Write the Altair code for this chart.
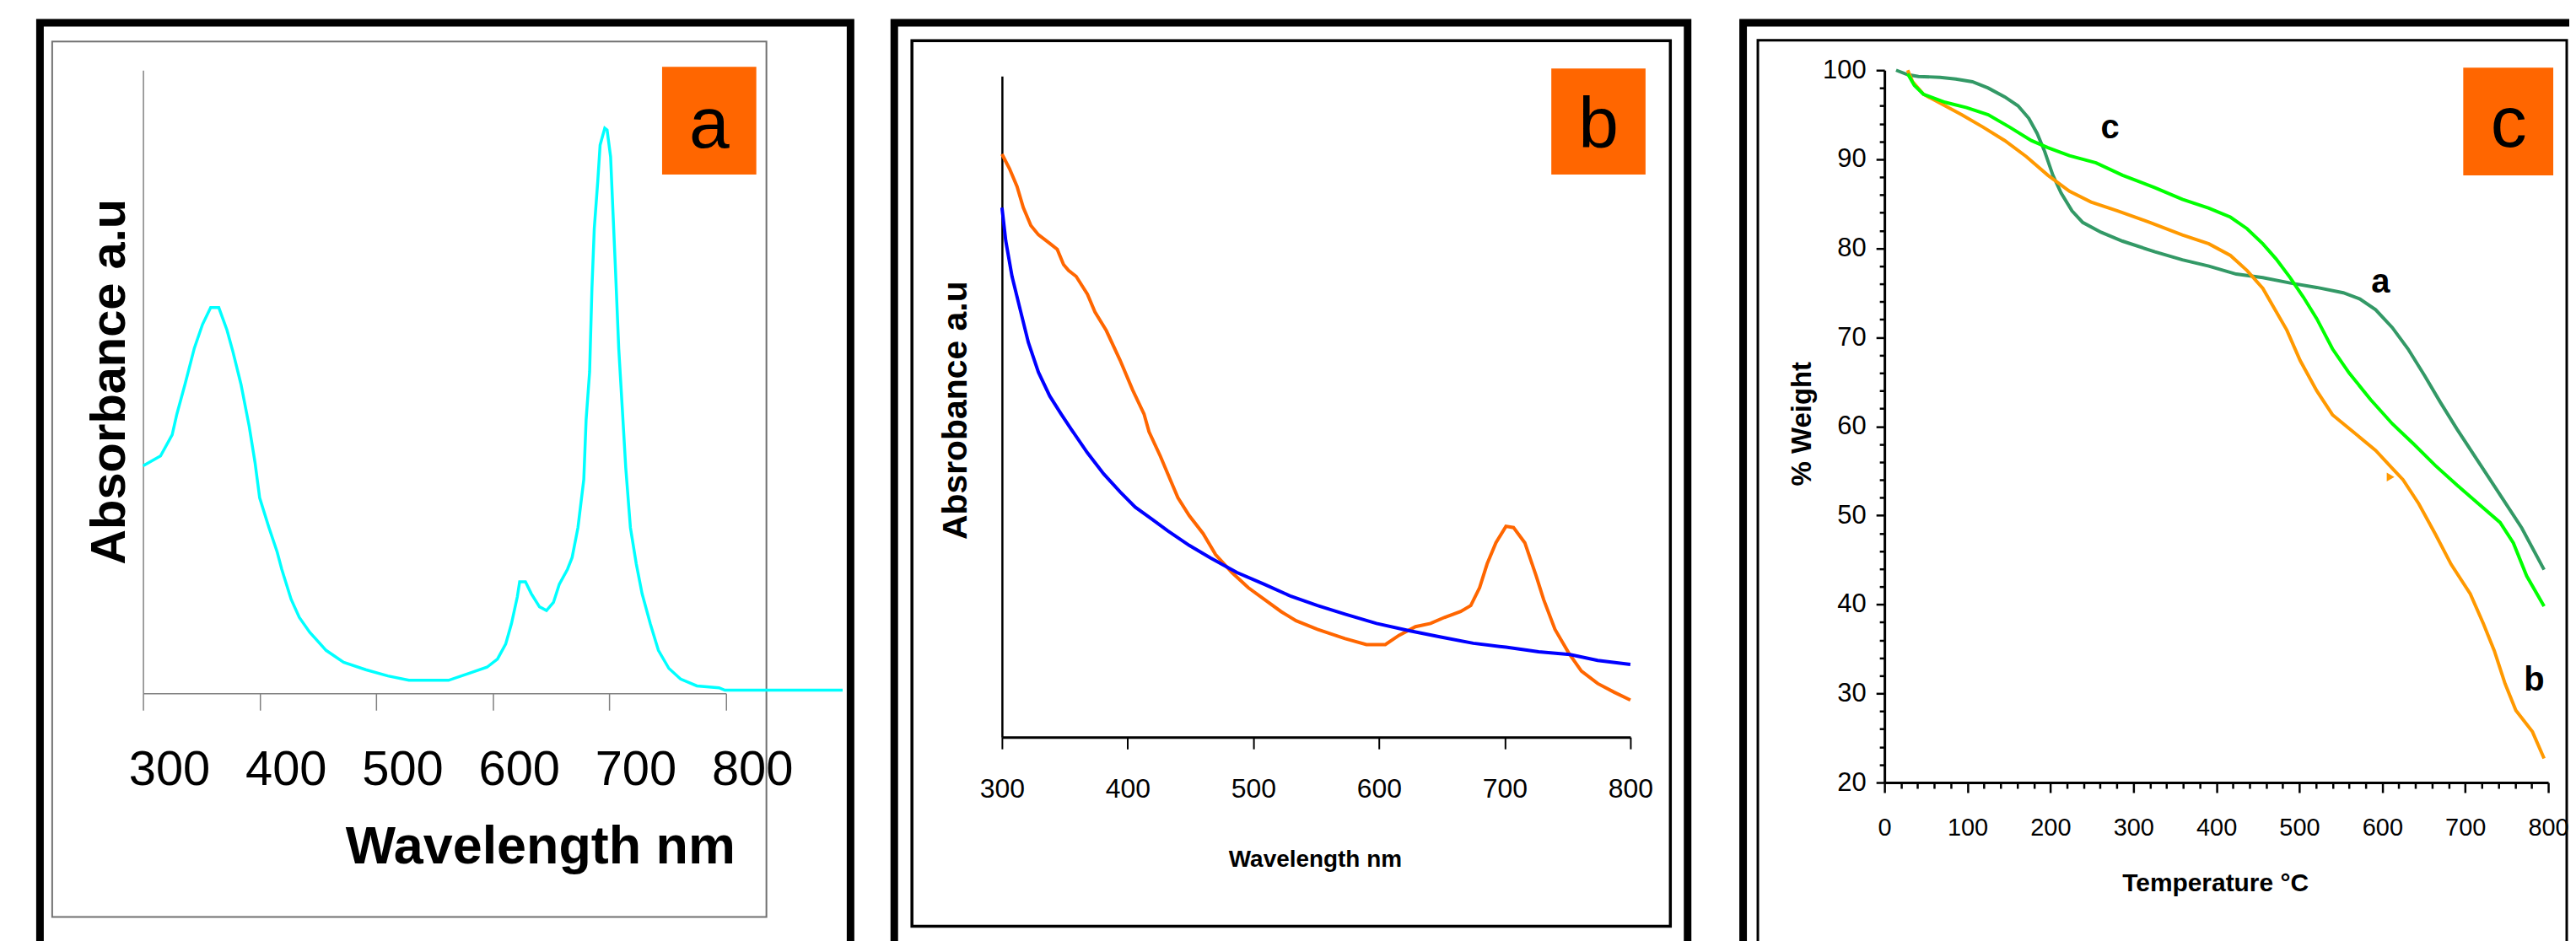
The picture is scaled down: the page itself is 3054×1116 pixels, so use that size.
import altair as alt
import pandas as pd

# ---------------- data: panel a (UV-vis, cyan) ----------------
a_wl = [300,315,325,329,336,344,351,358,365,372,377,384,391,396,400,408,415,419,427,434,
        443,457,472,491,510,528,562,581,595,604,611,616,621,623,628,633,640,646,652,657,
        664,668,673,678,680,683,685,687,690,692,696,698,701,703,705,708,711,714,718,723,
        728,735,742,751,761,775,794,799,900]
a_abs = [0.365,0.381,0.415,0.448,0.496,0.554,0.592,0.619,0.619,0.583,0.549,0.496,0.429,0.371,0.314,0.266,0.227,0.199,0.151,0.122,
         0.098,0.069,0.050,0.038,0.028,0.021,0.021,0.033,0.042,0.055,0.079,0.112,0.155,0.179,0.179,0.160,0.139,0.133,0.146,0.175,
         0.199,0.218,0.266,0.343,0.439,0.516,0.650,0.746,0.822,0.880,0.907,0.904,0.861,0.774,0.688,0.553,0.458,0.362,0.266,0.208,
         0.160,0.112,0.069,0.040,0.023,0.012,0.009,0.005,0.005]

# ---------------- data: panel b (orange and blue spectra) ----------------
bo_wl = [300,306,312,317,323,329,338,344,349,353,359,368,374,383,394,404,413,417,426,434,
         440,449,460,470,483,496,509,522,534,551,573,590,605,616,629,641,652,665,673,680,
         686,693,701,707,716,725,731,740,751,761,774,787,800]
bo_ab = [0.882,0.860,0.833,0.801,0.774,0.760,0.747,0.738,0.715,0.706,0.697,0.670,0.643,0.615,0.570,0.525,0.489,0.462,0.425,0.389,
         0.362,0.335,0.308,0.276,0.249,0.226,0.208,0.190,0.176,0.163,0.149,0.140,0.140,0.154,0.167,0.172,0.181,0.190,0.199,0.226,
         0.262,0.294,0.319,0.317,0.294,0.244,0.208,0.163,0.127,0.100,0.081,0.068,0.056]
bb_wl = [300,303,308,315,321,329,338,347,355,368,381,394,406,419,432,449,466,487,509,530,
         551,573,598,624,650,675,701,727,752,774,800]
bb_ab = [0.801,0.751,0.697,0.643,0.597,0.552,0.516,0.489,0.466,0.430,0.398,0.371,0.348,0.330,0.312,0.290,0.271,0.249,0.231,0.213,
         0.199,0.186,0.172,0.161,0.151,0.142,0.136,0.129,0.125,0.116,0.110]

# ---------------- data: panel c (TGA curves) ----------------
ca_T = [14,28,41,67,86,106,125,145,161,174,184,193,203,213,226,239,261,287,326,359,
        391,424,456,489,521,553,573,592,612,631,651,670,690,716,742,768,795]
ca_W = [100,99.5,99.3,99.2,99.0,98.7,98.0,97.0,96.0,94.6,92.9,90.9,88.2,86.2,84.2,82.9,81.8,80.8,79.6,78.7,
        78.0,77.1,76.7,76.1,75.6,75.0,74.3,73.1,71.1,68.7,65.7,62.7,59.7,56.0,52.3,48.6,43.9]
cc_T = [28,36,47,73,99,125,151,177,197,223,255,287,326,359,391,417,437,456,472,489,
        505,521,540,560,586,612,638,664,690,716,742,758,774,795]
cc_W = [99.6,98.3,97.3,96.4,95.8,95.0,93.6,92.1,91.3,90.4,89.6,88.2,86.8,85.5,84.5,83.5,82.2,80.5,78.8,76.7,
        74.5,72.1,68.7,66.0,63.0,60.3,58.0,55.6,53.4,51.3,49.2,46.9,43.2,39.8]
cb_T = [28,34,47,67,93,119,145,171,197,223,249,281,320,359,391,417,437,456,469,485,
        501,521,540,566,592,612,625,644,664,683,706,722,735,748,761,781,795]
cb_W = [100,98.7,97.3,96.3,95.0,93.6,92.1,90.3,88.2,86.4,85.2,84.2,82.9,81.5,80.5,79.2,77.5,75.5,73.4,70.8,
        67.4,64.0,61.3,59.3,57.3,55.3,54.0,51.3,47.9,44.5,41.2,37.8,34.8,31.1,28.1,25.7,22.7]
blip_T = [610]
blip_W = [54.3]
curve_labels = ["c", "a", "b"]
curve_lab_T = [272, 598, 783]
curve_lab_W = [93.5, 76.2, 31.5]

panel_letters = ["a", "b", "c"]

# ---------------- layout helpers ----------------
M = 8
W, H = 3038, 1100
def p(v):
    return v - M

SANS = "Liberation Sans, Arial, sans-serif"

def lin(domain, r0, r1):
    return alt.Scale(domain=domain, range=[p(r0), p(r1)], nice=False, zero=False)

one = alt.Data(values=[{"k": 1}])

def rect(x0, y0, x1, y1, stroke=None, sw=0, fill=None):
    kw = {}
    if fill is not None:
        kw["fill"] = fill
    else:
        kw["fill"] = "white"
        kw["fillOpacity"] = 0
    if stroke is not None:
        kw["stroke"] = stroke
        kw["strokeWidth"] = sw
    else:
        kw["strokeWidth"] = 0
    return alt.Chart(one).mark_rect(**kw).encode(
        x=alt.value(p(x0)), x2=alt.value(p(x1)), y=alt.value(p(y0)), y2=alt.value(p(y1)))

def letter(txt, cx, base, size=86):
    return alt.Chart(one).mark_text(text=txt, font=SANS, fontSize=size, color="black",
                                    align="center", baseline="alphabetic").encode(
        x=alt.value(p(cx)), y=alt.value(p(base)))

# ---------------- panel a ----------------
dfa = pd.DataFrame({"wl": a_wl, "ab": a_abs})
line_a = alt.Chart(dfa).mark_line(color="#00FFFF", strokeWidth=3.5).encode(
    x=alt.X("wl:Q", scale=lin([300, 800], 170, 863), axis=alt.Axis(
        orient="bottom", offset=p(823) - H, values=[300, 400, 500, 600, 700, 800], grid=False,
        domainColor="#808080", domainWidth=1.5, tickColor="#808080", tickWidth=1.5, tickSize=20,
        labelFont=SANS, labelFontSize=58, labelColor="black", labelOffset=31, labelPadding=42,
        labelFlush=False, labelOverlap=False,
        title="Wavelength nm", titleFont=SANS, titleFontSize=63, titleFontWeight="bold",
        titleColor="black", titleX=p(642), titleY=1025 - 823, titleAlign="center",
        titleBaseline="alphabetic")),
    y=alt.Y("ab:Q", scale=lin([0, 1], 823, 82), axis=alt.Axis(
        orient="left", offset=-p(170), ticks=False, labels=False, grid=False,
        domainColor="#808080", domainWidth=1.5,
        title="Absorbance a.u", titleFont=SANS, titleFontSize=58, titleFontWeight="bold",
        titleColor="black", titleAngle=270, titleX=p(131) - p(170), titleY=p(452),
        titleAlign="center", titleBaseline="middle")),
)

# ---------------- panel b ----------------
dfb = pd.concat([
    pd.DataFrame({"wl": bo_wl, "ab": bo_ab, "s": "orange"}),
    pd.DataFrame({"wl": bb_wl, "ab": bb_ab, "s": "blue"}),
])
line_b = alt.Chart(dfb).mark_line(strokeWidth=4).encode(
    x=alt.X("wl:Q", scale=lin([300, 800], 1191, 1938), axis=alt.Axis(
        orient="bottom", offset=p(875) - H, values=[300, 400, 500, 600, 700, 800], grid=False,
        domainColor="black", domainWidth=3, tickColor="black", tickWidth=2, tickSize=14,
        labelFont=SANS, labelFontSize=32, labelColor="black", labelPadding=33,
        labelFlush=False, labelOverlap=False,
        title="Wavelength nm", titleFont=SANS, titleFontSize=28, titleFontWeight="bold",
        titleColor="black", titleX=p(1563), titleY=1029 - 875, titleAlign="center",
        titleBaseline="alphabetic")),
    y=alt.Y("ab:Q", scale=lin([0, 1], 875, 89), axis=alt.Axis(
        orient="left", offset=-p(1191), ticks=False, labels=False, grid=False,
        domainColor="black", domainWidth=2.5,
        title="Absrobance a.u", titleFont=SANS, titleFontSize=41, titleFontWeight="bold",
        titleColor="black", titleAngle=270, titleX=p(1136) - p(1191), titleY=p(486),
        titleAlign="center", titleBaseline="middle")),
    color=alt.Color("s:N", scale=alt.Scale(domain=["orange", "blue"], range=["#FF6600", "#0000FF"]),
                    legend=None),
)

# ---------------- panel c ----------------
dfc = pd.concat([
    pd.DataFrame({"T": ca_T, "W": ca_W, "s": "a"}),
    pd.DataFrame({"T": cb_T, "W": cb_W, "s": "b"}),
    pd.DataFrame({"T": cc_T, "W": cc_W, "s": "c"}),
])
xc = lambda: lin([0, 800], 2240, 3029)
yc = lambda: lin([20, 100], 929, 82)
line_c = alt.Chart(dfc).mark_line(strokeWidth=4).encode(
    x=alt.X("T:Q", scale=xc(), axis=alt.Axis(
        orient="bottom", offset=p(929) - H, values=list(range(0, 801, 100)), grid=False,
        domainColor="black", domainWidth=3, tickColor="black", tickWidth=2.5, tickSize=12,
        labelFont=SANS, labelFontSize=29, labelColor="black", labelPadding=28,
        labelFlush=False, labelOverlap=False,
        title="Temperature °C", titleFont=SANS, titleFontSize=30, titleFontWeight="bold",
        titleColor="black", titleX=p(2633), titleY=129, titleAlign="center",
        titleBaseline="alphabetic")),
    y=alt.Y("W:Q", scale=yc(), axis=alt.Axis(
        orient="left", offset=-p(2240), values=list(range(20, 101, 10)), grid=False,
        domainColor="black", domainWidth=3, tickColor="black", tickWidth=2.5, tickSize=10,
        labelFont=SANS, labelFontSize=31, labelColor="black", labelPadding=12,
        labelFlush=False, labelOverlap=False,
        title="% Weight", titleFont=SANS, titleFontSize=33, titleFontWeight="bold",
        titleColor="black", titleAngle=270, titleX=p(2142) - p(2240), titleY=p(502),
        titleAlign="center", titleBaseline="middle")),
    color=alt.Color("s:N", scale=alt.Scale(domain=["a", "b", "c"],
                                           range=["#339966", "#FF9900", "#00FF00"]), legend=None),
)

minor_c = alt.Chart(dfc).mark_line(strokeOpacity=0).encode(
    x=alt.X("T:Q", scale=xc(), axis=alt.Axis(
        orient="bottom", offset=p(929) - H, values=[v for v in range(20, 800, 20) if v % 100],
        grid=False, domain=False, labels=False, tickColor="black", tickWidth=2.5, tickSize=7,
        title="")),
    y=alt.Y("W:Q", scale=yc(), axis=alt.Axis(
        orient="left", offset=-p(2240), values=[v for v in range(22, 100, 2) if v % 10],
        grid=False, domain=False, labels=False, tickColor="black", tickWidth=2.5, tickSize=6,
        title="")),
    detail="s:N",
)

blip = alt.Chart(pd.DataFrame({"T": blip_T, "W": blip_W})).mark_point(
    shape="triangle-right", filled=True, size=110, color="#FF9900", opacity=1).encode(
    x=alt.X("T:Q", scale=xc(), axis=None),
    y=alt.Y("W:Q", scale=yc(), axis=None),
)

labels_c = alt.Chart(pd.DataFrame({"t": curve_labels, "T": curve_lab_T, "W": curve_lab_W})).mark_text(
    font=SANS, fontSize=40, fontWeight="bold", color="black", align="center", baseline="middle").encode(
    x=alt.X("T:Q", scale=xc(), axis=None),
    y=alt.Y("W:Q", scale=yc(), axis=None),
    text="t:N",
)

# ---------------- decorations ----------------
decor = [
    rect(47.5, 25.5, 1011, 1125, "black", 9),
    rect(1063, 25.5, 2006, 1125, "black", 9),
    rect(2072, 25.5, 3080, 1125, "black", 9),
    rect(62, 48, 911, 1089, "#707070", 2),
    rect(1084, 47, 1985.5, 1100, "black", 3.5),
    rect(2089.5, 46.5, 3051, 1135, "black", 3),
    rect(787, 78, 899, 206, fill="#FF6600"),
    rect(1844, 80, 1956, 206, fill="#FF6600"),
    rect(2928, 79, 3035, 207, fill="#FF6600"),
    letter(panel_letters[0], 843, 174),
    letter(panel_letters[1], 1900, 174),
    letter(panel_letters[2], 2982, 173),
]

chart = alt.layer(
    *decor, line_a, line_b, minor_c, line_c, blip, labels_c
).resolve_scale(
    x="independent", y="independent", color="independent"
).properties(
    width=W, height=H,
    autosize=alt.AutoSizeParams(type="none"),
    padding={"left": 0, "top": 0, "right": 8, "bottom": 8},
    background="white",
).configure_view(strokeWidth=0)

chart.save("out.html", embed_options={"renderer": "svg", "actions": False})
